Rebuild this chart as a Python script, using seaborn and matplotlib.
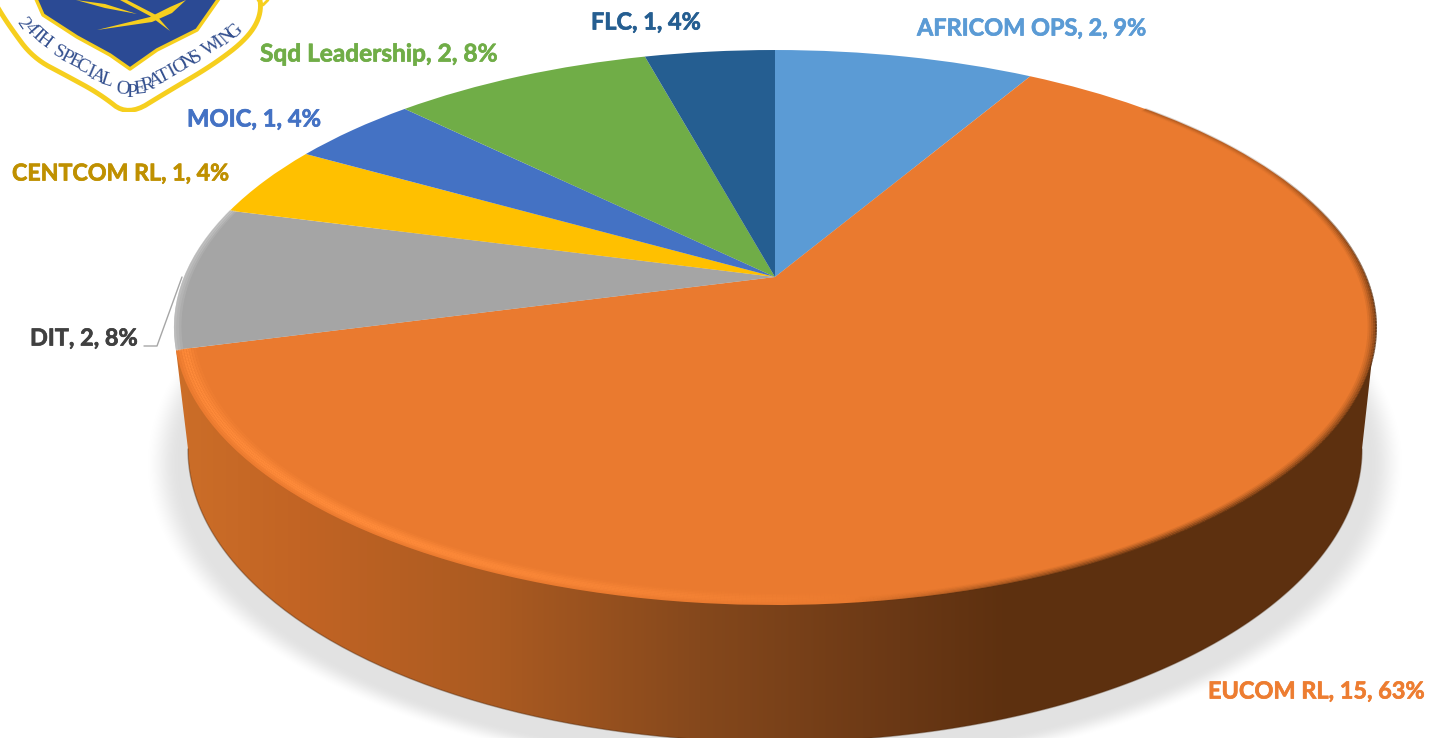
import numpy as np
import matplotlib
matplotlib.use("Agg")
import matplotlib.pyplot as plt
import matplotlib.transforms as mtransforms
import matplotlib.patheffects as pe
from matplotlib.path import Path
from matplotlib.patches import Polygon, Rectangle
from matplotlib.collections import LineCollection
from matplotlib.colors import to_rgb
import seaborn as sns

# dados
categorias = ["AFRICOM OPS", "EUCOM RL", "DIT", "CENTCOM RL", "MOIC", "Sqd Leadership", "FLC"]
valores = [2, 15, 2, 1, 1, 2, 1]
percentuais = [9, 63, 8, 4, 4, 8, 4]
cores = ["#5B9BD5", "#EA7A2F", "#A5A5A5", "#FFC000", "#4472C4", "#70AD47", "#255E91"]
cores_texto = ["#5B9BD5", "#ED7D31", "#404040", "#BF9000", "#4472C4", "#70AD47", "#255E91"]
pos_texto = [(917, 29), (1208, 692), (30, 339), (12, 174), (187, 119), (260, 54), (591, 23)]
tam_texto = [16.9, 16.9, 16.9, 16.7, 17.1, 17.6, 16.9]

sns.set_theme(style="white")
plt.rcParams["font.family"] = ["Lato", "DejaVu Sans"]

W, H = 1443, 738
CX, CY = 775.0, 277.0
K, A, B = 0.182, 591.0, 268.3


# perspectiva do topo da pizza: circulo unitario -> pixels
class Perspectiva(mtransforms.Transform):
    input_dims = 2
    output_dims = 2
    is_separable = False
    has_inverse = False

    def transform_non_affine(self, pts):
        pts = np.asarray(pts, dtype=float)
        w = 1 + K * pts[:, 1]
        return np.column_stack([CX + A * pts[:, 0] / w, CY - B * pts[:, 1] / w])


def suaviza(pts, voltas=3):
    pts = np.asarray(pts, dtype=float)
    for _ in range(voltas):
        prox = np.roll(pts, -1, axis=0)
        pts = np.column_stack([0.75 * pts + 0.25 * prox, 0.25 * pts + 0.75 * prox]).reshape(-1, 2)
    return pts


persp = Perspectiva()

fig, ax = plt.subplots(figsize=(W / 100, H / 100), dpi=100)
fig.subplots_adjust(0, 0, 1, 1)

# sombra
xx, yy = np.meshgrid(np.arange(W) + 0.5, np.arange(H) + 0.5)
s = np.sqrt(((xx - 775) / 600) ** 2 + ((yy - 464) / 298) ** 2)
alfa = np.clip((1.052 - s) / 0.06, 0, 1)
alfa = alfa * alfa * (3 - 2 * alfa) * 0.115
sombra = np.dstack([np.zeros_like(alfa)] * 3 + [alfa])
ax.imshow(sombra, extent=(0, W, H, 0), aspect="auto", zorder=0, interpolation="bilinear")

# parede lateral com gradiente horizontal
px = [176, 300, 500, 700, 900, 1010, 1375]
pr = [(204, 110, 40), (194, 100, 36), (170, 90, 33), (133, 72, 28), (106, 56, 21), (93, 48, 15), (93, 48, 15)]
col = np.arange(W) + 0.5
grad = np.dstack([np.interp(col, px, [c[i] / 255 for c in pr]) for i in range(3)])
t = np.linspace(np.pi, 0, 200)
base_x = 775 + 587 * np.cos(t)
base_y = 449 + 293 * np.sin(t)
contorno = np.vstack([[(176, 350)], np.column_stack([base_x, base_y]), [(1375, 332), (775, 300)]])
im = ax.imshow(grad, extent=(0, W, H, 0), aspect="auto", zorder=1)
im.set_clip_path(Path(contorno, closed=False), transform=ax.transData)
ax.plot(base_x, base_y, color="#4a2509", lw=1, alpha=0.4, zorder=1.5)

# topo da pizza
fatias, _ = ax.pie(valores, colors=sns.color_palette(cores), startangle=90, counterclock=False,
                   radius=1, center=(0, 0))
for f in fatias:
    f.set_transform(persp + ax.transData)
    f.set_zorder(2)
    f.set_edgecolor("none")

# bisel da borda frontal: claro a esquerda, escuro a direita
ang_ini = np.deg2rad(90 - 360 * 17 / 24)
ang = np.linspace(ang_ini, np.deg2rad(45), 700)
claro = np.array(to_rgb("#FF8B3A"))
escuro = np.array(to_rgb("#5D300F"))
aneis_claros = [(0.970, 0.2), (0.974, 0.45), (0.978, 0.7), (0.982, 0.95), (0.986, 1.0), (0.990, 0.85), (0.994, 0.4), (0.998, 0.1)]
for r, peso in aneis_claros:
    p = persp.transform(np.column_stack([r * np.cos(ang), r * np.sin(ang)]))
    segs = np.stack([p[:-1], p[1:]], axis=1)
    xm = segs[:, 0, 0]
    forca = np.clip((880 - xm) / 500, 0, 1) * peso
    cs = np.column_stack([np.tile(claro, (len(xm), 1)), forca])
    ax.add_collection(LineCollection(segs, colors=cs, linewidths=1.5, zorder=3))
for r, peso in [(0.988, 0.1), (0.991, 0.22), (0.994, 0.4), (0.997, 0.6), (1.0, 0.85)]:
    p = persp.transform(np.column_stack([r * np.cos(ang), r * np.sin(ang)]))
    segs = np.stack([p[:-1], p[1:]], axis=1)
    xm, ym = segs[:, 0, 0], segs[:, 0, 1]
    forca = np.clip((xm - 850) / 300, 0, 1) * np.clip((ym - 120) / 180, 0.25, 1) * peso
    cs = np.column_stack([np.tile(escuro, (len(xm), 1)), forca])
    ax.add_collection(LineCollection(segs, colors=cs, linewidths=1.4, zorder=3))

# borda clara da fatia cinza
ang2 = np.linspace(np.deg2rad(90 - 360 * 17 / 24), np.deg2rad(90 - 360 * 19 / 24), 80)
for r, a2 in [(0.990, 0.2), (0.994, 0.35), (0.998, 0.5)]:
    p = persp.transform(np.column_stack([r * np.cos(ang2), r * np.sin(ang2)]))
    ax.plot(p[:, 0], p[:, 1], color="#D2D2D2", lw=1.8, alpha=a2, zorder=3)

# linha de chamada do DIT
ax.plot([182, 157, 144], [277, 346, 346], color="#A6A6A6", lw=1, zorder=3)

# rotulos
for nome, v, pc, cor, (x, y), tam in zip(categorias, valores, percentuais, cores_texto, pos_texto, tam_texto):
    ax.text(x, y, f"{nome}, {v}, {pc}%", color=cor, fontsize=tam, fontweight="bold",
            ha="left", va="center", zorder=5,
            path_effects=[pe.withStroke(linewidth=0.5, foreground=cor)])

# brasao
azul = "#2B4A94"
amarelo = "#F6CF1E"
faixa = [(-12, -12), (-4, 5), (10, 27), (33, 58), (67, 76), (100, 94), (128, 116), (167, 92), (213, 65),
         (248, 38), (262, 13), (258, -12)]
escudo = [(32, -10), (43, 15), (77, 37), (110, 55), (130, 69), (157, 50), (197, 30), (225, -10)]
ax.add_patch(Polygon(suaviza(faixa), closed=True, fc="white", ec=amarelo, lw=3.5, joinstyle="round", zorder=4))
ax.add_patch(Polygon(escudo, closed=True, fc=azul, ec=amarelo, lw=2.5, joinstyle="round", zorder=4.1))
ax.add_patch(Polygon([(97, 30), (150, 17), (170, 7), (186, 0), (172, 13), (152, 22)], fc=amarelo, ec="none", zorder=4.2))
ax.add_patch(Polygon([(170, 31), (150, 16), (120, 0), (127, 0), (156, 15)], fc=amarelo, ec="none", zorder=4.2))
ax.add_patch(Polygon([(76, 0), (105, 4), (137, 14), (105, 8)], fc=amarelo, ec="none", zorder=4.2))
ax.plot([258, 263, 268], [0, 5, 0], color=amarelo, lw=2, zorder=4.2)
ax.add_patch(Rectangle((100, 112), 60, 8, fc="white", ec="none", zorder=4.3))

lema = "24TH SPECIAL OPERATIONS WING"
cam = np.array([(23, 23), (52, 48), (100, 78), (132, 93), (167, 75), (200, 55), (235, 32)], dtype=float)
giro = [-55, -30, -22, 0, 28, 30, 45]
dist = np.r_[0, np.cumsum(np.hypot(*np.diff(cam, axis=0).T))]
passos = np.linspace(0, dist[-1], len(lema))
for letra, d in zip(lema, passos):
    ax.text(np.interp(d, dist, cam[:, 0]), np.interp(d, dist, cam[:, 1]), letra, family="Liberation Serif",
            fontsize=14, color="#34508F", rotation=np.interp(d, dist, giro),
            rotation_mode="anchor", ha="center", va="center", zorder=4.4)

ax.set_aspect("auto")
ax.set_xlim(0, W)
ax.set_ylim(H, 0)
ax.axis("off")
fig.savefig("out.png", dpi=100, facecolor="white")
